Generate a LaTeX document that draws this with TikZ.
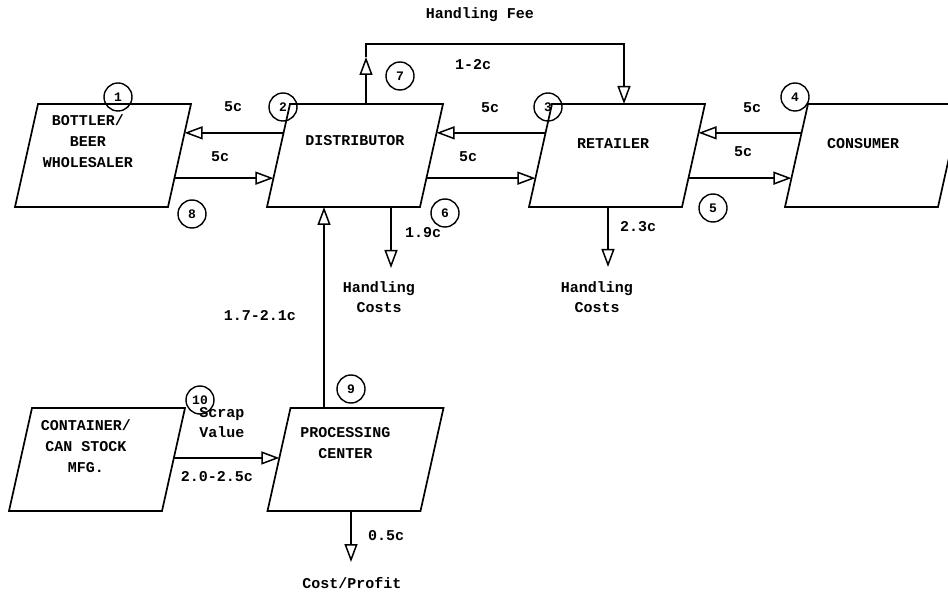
\documentclass[tikz,border=0pt]{standalone}
\usepackage{fontspec}
\setmonofont{Liberation Mono}
\usepackage{tikz}
\usetikzlibrary{arrows.meta, calc}

\begin{document}
\begin{tikzpicture}[x=1pt, y=-1pt,
    frame/.style={rectangle, minimum width=153pt, minimum height=103pt, inner sep=0pt, outer sep=0pt},
    edge/.style={line width=1.7pt, line join=miter},
    boxtext/.style={font=\fontsize{15}{21}\selectfont\ttfamily\bfseries, align=center},
    lbl/.style={font=\fontsize{15}{20}\selectfont\ttfamily\bfseries, align=center},
    num/.style={circle, draw, line width=1.4pt, minimum size=28pt, inner sep=0pt, font=\fontsize{13}{13}\selectfont\ttfamily\bfseries},
    arr/.style={line width=1.7pt, -{Triangle[open, length=18pt, width=13pt, line width=1.5pt]}},
]
    \useasboundingbox (0,0) rectangle (948,593);

    % boxes
    \node[frame] (bottler) at (103,155.5) {};
    \node[frame] (dist) at (355,155.5) {};
    \node[frame] (ret) at (617,155.5) {};
    \node[frame] (cons) at (873,155.5) {};
    \node[frame] (can) at (97,459.5) {};
    \node[frame] (proc) at (355.5,459.5) {};

    % slanted sides, corners named for the connectors
    \foreach \b in {bottler,dist,ret,cons,can,proc}{
        \coordinate (\b-bl) at ([xshift=-11.5pt]\b.south west);
        \coordinate (\b-br) at ([xshift=-11.5pt]\b.south east);
        \coordinate (\b-tr) at ([xshift=11.5pt]\b.north east);
        \coordinate (\b-tl) at ([xshift=11.5pt]\b.north west);
        \draw[edge] (\b-bl) -- (\b-br) -- (\b-tr) -- (\b-tl) -- cycle;
        \coordinate (\b-hl) at ($(\b-bl)!.72!(\b-tl)$);
        \coordinate (\b-hr) at ($(\b-br)!.72!(\b-tr)$);
        \coordinate (\b-ll) at ($(\b-bl)!.28!(\b-tl)$);
        \coordinate (\b-lr) at ($(\b-br)!.28!(\b-tr)$);
        \coordinate (\b-ml) at ($(\b-bl)!.515!(\b-tl)$);
        \coordinate (\b-mr) at ($(\b-br)!.515!(\b-tr)$);
    }

    \node[boxtext] (bottler-t) at ([shift={(-15,-14)}]bottler.center) {BOTTLER/\\BEER\\WHOLESALER};
    \node[boxtext] (dist-t) at ([shift={(0,-15)}]dist.center) {DISTRIBUTOR};
    \node[boxtext] (ret-t) at ([shift={(-4,-12)}]ret.center) {RETAILER};
    \node[boxtext] (cons-t) at ([shift={(-10,-12)}]cons.center) {CONSUMER};
    \node[boxtext] (can-t) at ([shift={(-11,-13)}]can.center) {CONTAINER/\\CAN STOCK\\MFG.};
    \node[boxtext] (proc-t) at ([shift={(-10,-16)}]proc.center) {PROCESSING\\CENTER};

    % money flows between boxes
    \draw[arr] (dist-hl) -- (bottler-hr);
    \draw[arr] (bottler-lr) -- (dist-ll);
    \draw[arr] (ret-hl) -- (dist-hr);
    \draw[arr] (dist-lr) -- (ret-ll);
    \draw[arr] (cons-hl) -- (ret-hr);
    \draw[arr] (ret-lr) -- (cons-ll);
    \draw[arr] (can-mr) -- (proc-ml);

    % handling fee loop
    \coordinate (dist-top) at ([xshift=11pt]dist.north);
    \coordinate (ret-top) at ([xshift=7pt]ret.north);
    \coordinate (fee-mid) at ([yshift=47pt]dist-top);
    \coordinate (fee-l) at ([yshift=60pt]dist-top);
    \coordinate (fee-r) at (fee-l -| ret-top);
    \draw[arr] (dist-top) -- (fee-mid);
    \draw[arr] (fee-mid) -- (fee-l) -- (fee-r) -- (ret-top);

    % processing center to distributor
    \coordinate (proc-up) at ([xshift=-31.5pt]proc.north);
    \draw[arr] (proc-up) -- (proc-up |- dist.south);

    % costs going out
    \coordinate (dist-out) at ([xshift=36pt]dist.south);
    \coordinate (dist-cost) at ([yshift=-61pt]dist-out);
    \draw[arr] (dist-out) -- (dist-cost);
    \coordinate (ret-out) at ([xshift=-9pt]ret.south);
    \coordinate (ret-cost) at ([yshift=-60pt]ret-out);
    \draw[arr] (ret-out) -- (ret-cost);
    \coordinate (proc-out) at ([xshift=-4.5pt]proc.south);
    \coordinate (proc-cost) at ([yshift=-51pt]proc-out);
    \draw[arr] (proc-out) -- (proc-cost);

    % labels
    \node[lbl] (fee) at (480,15) {Handling Fee};
    \node[lbl] (fee-v) at (473,65) {1-2c};
    \node[lbl] (bd-top) at (233,107) {5c};
    \node[lbl] (bd-bot) at (220,157) {5c};
    \node[lbl] (dr-top) at (490,108) {5c};
    \node[lbl] (dr-bot) at (468,157) {5c};
    \node[lbl] (rc-top) at (752,108) {5c};
    \node[lbl] (rc-bot) at (743,152) {5c};
    \node[lbl] (dist-v) at (423,233) {1.9c};
    \node[lbl] (ret-v) at (638,227) {2.3c};
    \node[lbl] (dist-hc) at (379,297) {Handling\\Costs};
    \node[lbl] (ret-hc) at (597,297) {Handling\\Costs};
    \node[lbl] (proc-v) at (260,316) {1.7-2.1c};
    \node[lbl] (scrap) at (222,423) {Scrap\\Value};
    \node[lbl] (scrap-v) at (217,477) {2.0-2.5c};
    \node[lbl] (proc-o) at (386,536) {0.5c};
    \node[lbl] (profit) at (352,583) {Cost/Profit};

    % circled numbers
    \node[num] (n1) at (118,97) {1};
    \node[num] (n2) at (283,107) {2};
    \node[num] (n3) at (548,107) {3};
    \node[num] (n4) at (795,97) {4};
    \node[num] (n5) at (713,208) {5};
    \node[num] (n6) at (445,213) {6};
    \node[num] (n7) at (400,76) {7};
    \node[num] (n8) at (192,214) {8};
    \node[num] (n9) at (351,389) {9};
    \node[num] (n10) at (200,400) {10};
\end{tikzpicture}
\end{document}
